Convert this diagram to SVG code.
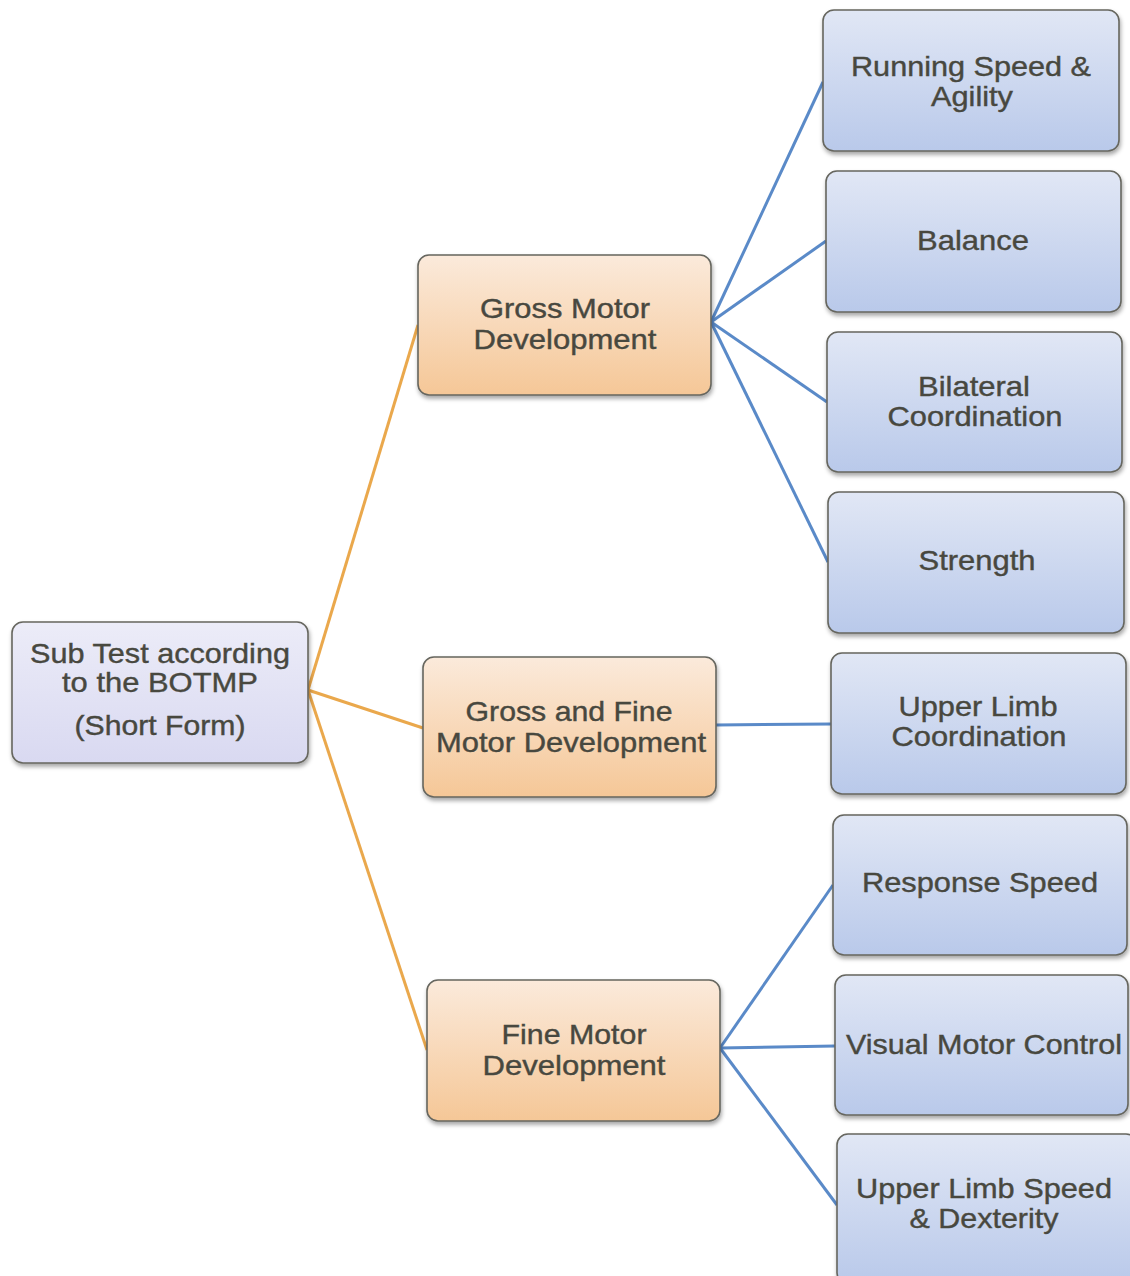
<svg xmlns="http://www.w3.org/2000/svg" width="1130" height="1276" viewBox="0 0 1130 1276">
<defs>
<linearGradient id="gBlue" x1="0" y1="0" x2="0" y2="1"><stop offset="0" stop-color="#e1e7f5"/><stop offset="1" stop-color="#b9c9ea"/></linearGradient>
<linearGradient id="gOrange" x1="0" y1="0" x2="0" y2="1"><stop offset="0" stop-color="#fbeadb"/><stop offset="1" stop-color="#f5c797"/></linearGradient>
<linearGradient id="gRoot" x1="0" y1="0" x2="0" y2="1"><stop offset="0" stop-color="#ececf8"/><stop offset="1" stop-color="#d9d9f1"/></linearGradient>
<filter id="sh" x="-10%" y="-10%" width="120%" height="130%"><feDropShadow dx="1" dy="3" stdDeviation="2" flood-color="#000" flood-opacity="0.35"/></filter>
</defs>
<style>
.box{stroke:#66665e;stroke-width:1.6;filter:url(#sh)}
.b{fill:url(#gBlue)}
.o{fill:url(#gOrange)}
.r{fill:url(#gRoot)}
text{font-family:"Liberation Sans",Arial,sans-serif;font-size:28px;fill:#48483f;stroke:#48483f;stroke-width:0.4;text-anchor:middle}
.co{stroke:#eaa84c;stroke-width:3;fill:none}
.cb{stroke:#5a8ac8;stroke-width:3;fill:none}
</style>
<rect width="1130" height="1276" fill="#ffffff"/>
<g id="connectors">
<line class="co" x1="308" y1="690" x2="418" y2="325"/>
<line class="co" x1="308" y1="690" x2="423" y2="728"/>
<line class="co" x1="308" y1="690" x2="427" y2="1050"/>
<line class="cb" x1="711" y1="322" x2="823" y2="82"/>
<line class="cb" x1="711" y1="322" x2="826" y2="241"/>
<line class="cb" x1="711" y1="322" x2="827" y2="402"/>
<line class="cb" x1="711" y1="322" x2="828" y2="562"/>
<line class="cb" x1="716" y1="725" x2="831" y2="724"/>
<line class="cb" x1="720" y1="1048" x2="833" y2="885"/>
<line class="cb" x1="720" y1="1048" x2="835" y2="1046"/>
<line class="cb" x1="720" y1="1048" x2="837" y2="1205"/>
</g>
<g id="root">
<rect class="box r" x="12" y="622" width="296" height="141" rx="11"/>
<text x="160" y="663" textLength="260" lengthAdjust="spacingAndGlyphs">Sub Test according</text>
<text x="160" y="692" textLength="196" lengthAdjust="spacingAndGlyphs">to the BOTMP</text>
<text x="160" y="735" textLength="171" lengthAdjust="spacingAndGlyphs">(Short Form)</text>
</g>
<g id="gross">
<rect class="box o" x="418" y="255" width="293" height="140" rx="11"/>
<text x="565" y="318" textLength="170" lengthAdjust="spacingAndGlyphs">Gross Motor</text>
<text x="565" y="349" textLength="183" lengthAdjust="spacingAndGlyphs">Development</text>
</g>
<g id="grossfine">
<rect class="box o" x="423" y="657" width="293" height="140" rx="11"/>
<text x="569" y="721" textLength="207" lengthAdjust="spacingAndGlyphs">Gross and Fine</text>
<text x="571" y="752" textLength="270" lengthAdjust="spacingAndGlyphs">Motor Development</text>
</g>
<g id="fine">
<rect class="box o" x="427" y="980" width="293" height="141" rx="11"/>
<text x="574" y="1044" textLength="145" lengthAdjust="spacingAndGlyphs">Fine Motor</text>
<text x="574" y="1075" textLength="183" lengthAdjust="spacingAndGlyphs">Development</text>
</g>
<g id="running">
<rect class="box b" x="823" y="10" width="296" height="141" rx="11"/>
<text x="971" y="76" textLength="240" lengthAdjust="spacingAndGlyphs">Running Speed &amp;</text>
<text x="972" y="106" textLength="82" lengthAdjust="spacingAndGlyphs">Agility</text>
</g>
<g id="balance">
<rect class="box b" x="826" y="171" width="295" height="141" rx="11"/>
<text x="973" y="250" textLength="112" lengthAdjust="spacingAndGlyphs">Balance</text>
</g>
<g id="bilateral">
<rect class="box b" x="827" y="332" width="295" height="140" rx="11"/>
<text x="974" y="396" textLength="112" lengthAdjust="spacingAndGlyphs">Bilateral</text>
<text x="975" y="426" textLength="175" lengthAdjust="spacingAndGlyphs">Coordination</text>
</g>
<g id="strength">
<rect class="box b" x="828" y="492" width="296" height="141" rx="11"/>
<text x="977" y="570" textLength="117" lengthAdjust="spacingAndGlyphs">Strength</text>
</g>
<g id="upperlimb">
<rect class="box b" x="831" y="653" width="295" height="141" rx="11"/>
<text x="978" y="716" textLength="159" lengthAdjust="spacingAndGlyphs">Upper Limb</text>
<text x="979" y="746" textLength="175" lengthAdjust="spacingAndGlyphs">Coordination</text>
</g>
<g id="response">
<rect class="box b" x="833" y="815" width="294" height="140" rx="11"/>
<text x="980" y="892" textLength="236" lengthAdjust="spacingAndGlyphs">Response Speed</text>
</g>
<g id="visual">
<rect class="box b" x="835" y="975" width="293" height="140" rx="11"/>
<text x="984" y="1054" textLength="276" lengthAdjust="spacingAndGlyphs">Visual Motor Control</text>
</g>
<g id="upperspeed">
<rect class="box b" x="837" y="1134" width="300" height="150" rx="11"/>
<text x="984" y="1198" textLength="256" lengthAdjust="spacingAndGlyphs">Upper Limb Speed</text>
<text x="984" y="1228" textLength="149" lengthAdjust="spacingAndGlyphs">&amp; Dexterity</text>
</g>
</svg>
